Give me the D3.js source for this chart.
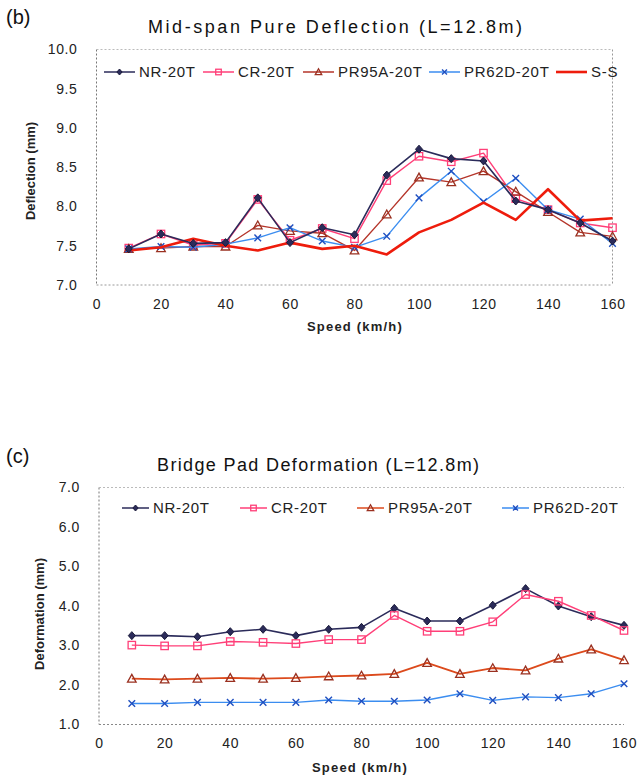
<!DOCTYPE html>
<html>
<head>
<meta charset="utf-8">
<script src="https://cdn.jsdelivr.net/npm/d3@7"></script>
<style>
  body { margin: 0; background: #fff; }
  svg { display: block; font-family: "Liberation Sans", Arial, sans-serif; }
  .tick text { fill: #222; }
</style>
</head>
<body>
<div id="container"></div>
<script>
// speeds (km/h)
const speeds = [10, 20, 30, 40, 50, 60, 70, 80, 90, 100, 110, 120, 130, 140, 150, 160];
const xTicks = [0, 20, 40, 60, 80, 100, 120, 140, 160];

// (b) mid-span pure deflection (mm)
const defNR    = [7.46, 7.65, 7.53, 7.54, 8.11, 7.54, 7.73, 7.64, 8.40, 8.73, 8.61, 8.58, 8.07, 7.96, 7.79, 7.56];
const defCR    = [7.47, 7.65, 7.51, 7.53, 8.09, 7.57, 7.72, 7.59, 8.33, 8.64, 8.57, 8.68, 8.10, 7.96, 7.79, 7.73];
const defPR95A = [7.46, 7.47, 7.49, 7.49, 7.76, 7.69, 7.66, 7.44, 7.90, 8.37, 8.31, 8.45, 8.19, 7.93, 7.67, 7.62];
const defPR62D = [7.46, 7.49, 7.48, 7.52, 7.60, 7.73, 7.56, 7.48, 7.62, 8.11, 8.45, 8.06, 8.36, 7.96, 7.84, 7.53];
const defSS    = [7.44, 7.48, 7.59, 7.50, 7.44, 7.54, 7.46, 7.50, 7.39, 7.67, 7.83, 8.05, 7.83, 8.22, 7.82, 7.85];
const defTicks = [7.0, 7.5, 8.0, 8.5, 9.0, 9.5, 10.0];

// (c) bridge pad deformation (mm)
const padNR    = [3.25, 3.25, 3.22, 3.35, 3.41, 3.25, 3.41, 3.46, 3.94, 3.62, 3.62, 4.02, 4.44, 4.00, 3.73, 3.51];
const padCR    = [3.01, 2.99, 2.99, 3.10, 3.08, 3.05, 3.15, 3.15, 3.76, 3.36, 3.36, 3.60, 4.29, 4.12, 3.76, 3.38];
const padPR95A = [2.16, 2.14, 2.16, 2.18, 2.16, 2.18, 2.22, 2.24, 2.28, 2.56, 2.28, 2.43, 2.37, 2.67, 2.90, 2.63];
const padPR62D = [1.53, 1.53, 1.56, 1.56, 1.56, 1.56, 1.62, 1.59, 1.59, 1.62, 1.78, 1.61, 1.70, 1.68, 1.78, 2.03];
const padTicks = [1.0, 2.0, 3.0, 4.0, 5.0, 6.0, 7.0];

// series styles
const styles = {
  "NR-20T":    { color: "#2b2b5a", marker: "diamond",  width: 1.6 },
  "CR-20T":    { color: "#ff3f78", marker: "square",   width: 1.4 },
  "PR95A-20T": { color: "#b5352a", marker: "triangle", width: 1.4 },
  "PR62D-20T": { color: "#3b8df0", marker: "cross",    width: 1.4 },
  "S-S":       { color: "#ee1c0c", marker: null,       width: 2.6 }
};

let svg = d3.select("#container")
  .append("svg")
  .attr("width", 638)
  .attr("height", 776);

// k scales the marker (legend ones are smaller)
function drawMarker(g, type, x, y, color, k) {
  k = k || 1;
  if (type == "diamond") {
    let a = 4 * k, b = 3.5 * k;
    g.append("path")
      .attr("d", `M${x},${y-a}L${x+b},${y}L${x},${y+a}L${x-b},${y}Z`)
      .attr("fill", "#2b2b5a").attr("stroke", "#1a1a3a").attr("stroke-width", 1);
  } else if (type == "square") {
    let a = 3.7 * k;
    g.append("rect")
      .attr("x", x - a).attr("y", y - a).attr("width", 2 * a).attr("height", 2 * a)
      .attr("fill", "none").attr("stroke", color).attr("stroke-width", 1.3);
  } else if (type == "triangle") {
    let a = 4.3 * k;
    g.append("path")
      .attr("d", `M${x},${y-a}L${x+a},${y+a*0.8}L${x-a},${y+a*0.8}Z`)
      .attr("fill", "none").attr("stroke", "#9a3020").attr("stroke-width", 1.3);
  } else if (type == "cross") {
    let a = 3.3 * k;
    g.append("path")
      .attr("d", `M${x-a},${y-a}L${x+a},${y+a}M${x+a},${y-a}L${x-a},${y+a}`)
      .attr("stroke", "#1f4fc0").attr("stroke-width", 1.4);
  }
}

function drawChart(cfg) {
  let x = d3.scaleLinear().domain([0, 160]).range([cfg.left, cfg.right]);
  let y = d3.scaleLinear().domain(cfg.yDomain).range([cfg.bottom, cfg.top]);

  // frame
  let frame = svg.append("g");
  frame.append("line").attr("x1", cfg.left).attr("x2", cfg.left).attr("y1", cfg.top).attr("y2", cfg.bottom)
    .attr("stroke", "#777").attr("stroke-dasharray", "2,2");
  frame.append("line").attr("x1", cfg.left).attr("x2", cfg.right).attr("y1", cfg.bottom).attr("y2", cfg.bottom)
    .attr("stroke", cfg.bottomColor).attr("stroke-dasharray", "2,2");
  frame.append("line").attr("x1", cfg.left).attr("x2", cfg.right).attr("y1", cfg.top).attr("y2", cfg.top)
    .attr("stroke", "#bbb").attr("stroke-dasharray", "2,2");
  if (cfg.rightFrame) {
    frame.append("line").attr("x1", cfg.right).attr("x2", cfg.right).attr("y1", cfg.top).attr("y2", cfg.bottom)
      .attr("stroke", "#999").attr("stroke-dasharray", "2,2");
  }

  // axes
  let xAxis = d3.axisBottom(x).tickValues(xTicks).tickSize(0).tickPadding(14).tickFormat(d3.format("d"));
  svg.append("g")
    .attr("transform", "translate(0," + cfg.bottom + ")")
    .call(xAxis)
    .call(g => g.select(".domain").remove())
    .selectAll("text").style("font-size", "14px").attr("letter-spacing", "0.6px");

  let yAxis = d3.axisLeft(y).tickValues(cfg.yTicks).tickSize(0).tickPadding(19).tickFormat(d3.format(".1f"));
  svg.append("g")
    .attr("transform", "translate(" + cfg.left + ",0)")
    .call(yAxis)
    .call(g => g.select(".domain").remove())
    .selectAll("text").style("font-size", "14px").attr("letter-spacing", "0.6px");

  // series
  let line = d3.line()
    .x((d, i) => x(speeds[i]))
    .y(d => y(d));

  cfg.series.forEach(s => {
    let st = styles[s.name];
    let g = svg.append("g");
    g.append("path")
      .datum(s.values)
      .attr("d", line)
      .attr("fill", "none")
      .attr("stroke", s.lineColor || st.color)
      .attr("stroke-width", s.lineWidth || st.width)
      .attr("stroke-linejoin", "round");
    if (st.marker) {
      s.values.forEach((v, i) => drawMarker(g, st.marker, x(speeds[i]), y(v), st.color));
    }
  });

  // legend
  let lg = svg.append("g");
  cfg.series.forEach((s, i) => {
    let st = styles[s.name];
    let lx = cfg.legendX[i];
    lg.append("line")
      .attr("x1", lx).attr("x2", lx + cfg.legendLine)
      .attr("y1", cfg.legendY).attr("y2", cfg.legendY)
      .attr("stroke", s.lineColor || st.color)
      .attr("stroke-width", st.marker ? 1.5 : 2.6);
    if (st.marker) drawMarker(lg, st.marker, lx + cfg.legendLine / 2, cfg.legendY, st.color, 0.75);
    lg.append("text")
      .attr("x", lx + cfg.legendLine + 4)
      .attr("y", cfg.legendY + 5)
      .attr("letter-spacing", "0.7px")
      .style("font-size", "15px")
      .style("fill", "#222")
      .text(s.name);
  });

  // panel letter
  svg.append("text")
    .attr("x", 6).attr("y", cfg.letterY)
    .style("font-size", "20px").style("fill", "#111")
    .text(cfg.letter);

  // title
  svg.append("text")
    .attr("x", cfg.titleX).attr("y", cfg.titleY)
    .attr("textLength", cfg.titleLen).attr("lengthAdjust", "spacing")
    .style("font-size", "18px").style("fill", "#111")
    .text(cfg.title);

  // y label
  svg.append("text")
    .attr("transform", "translate(" + cfg.yLabelX + "," + cfg.yLabelY + ") rotate(-90)")
    .attr("text-anchor", "middle")
    .style("font-size", "13px").style("font-weight", "bold").style("fill", "#222")
    .text(cfg.yLabel);

  // x label
  svg.append("text")
    .attr("x", cfg.xLabelX).attr("y", cfg.xLabelY)
    .attr("text-anchor", "middle")
    .attr("letter-spacing", "1.2px")
    .style("font-size", "13px").style("font-weight", "bold").style("fill", "#222")
    .text("Speed (km/h)");
}

drawChart({
  left: 96.5, right: 612.5, top: 49.5, bottom: 285,
  yDomain: [7, 10], yTicks: defTicks, rightFrame: true, bottomColor: "#999",
  series: [
    { name: "CR-20T", values: defCR },
    { name: "PR95A-20T", values: defPR95A },
    { name: "PR62D-20T", values: defPR62D },
    { name: "S-S", values: defSS },
    { name: "NR-20T", values: defNR }
  ],
  legendOrder: null,
  legendX: [203, 303, 429, 556, 104], legendY: 72, legendLine: 31,
  letter: "(b)", letterY: 24,
  title: "Mid-span Pure Deflection (L=12.8m)", titleX: 148, titleY: 33, titleLen: 374,
  yLabel: "Deflection (mm)", yLabelX: 35, yLabelY: 171,
  xLabelX: 355, xLabelY: 331
});

drawChart({
  left: 99, right: 624, top: 487.5, bottom: 724.5,
  yDomain: [1, 7], yTicks: padTicks, rightFrame: false, bottomColor: "#888",
  series: [
    { name: "NR-20T", values: padNR },
    { name: "CR-20T", values: padCR },
    { name: "PR95A-20T", values: padPR95A, lineColor: "#dc4a1c", lineWidth: 1.8 },
    { name: "PR62D-20T", values: padPR62D }
  ],
  legendX: [122, 240, 357, 502], legendY: 508, legendLine: 27,
  letter: "(c)", letterY: 463,
  title: "Bridge Pad Deformation (L=12.8m)", titleX: 157, titleY: 471, titleLen: 322,
  yLabel: "Deformation (mm)", yLabelX: 44, yLabelY: 614,
  xLabelX: 360, xLabelY: 772
});
</script>
</body>
</html>
